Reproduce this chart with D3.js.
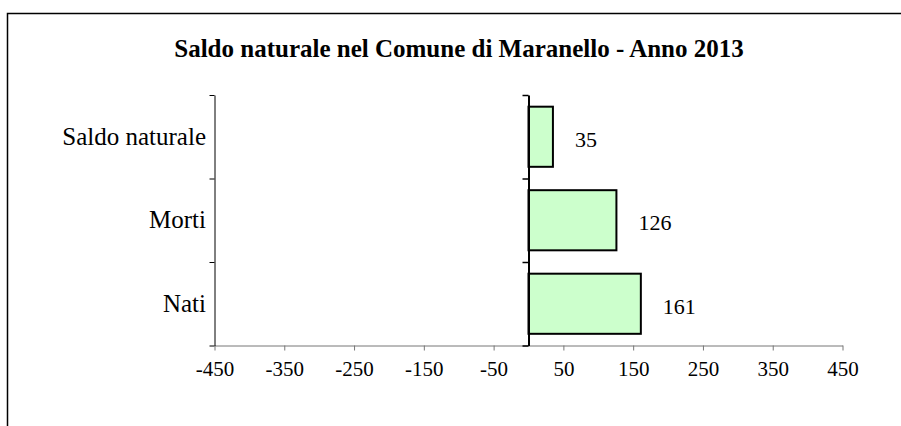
<!DOCTYPE html>
<meta charset="utf-8" />
<title>Saldo naturale - Maranello 2013</title>
<style>
  body { margin: 0; background: #fff; }
  text { font-family: "Times New Roman", "Liberation Serif", serif; fill: #000; }
  .frame { fill: none; stroke: #000; stroke-width: 1.5px; }
  .bar { fill: #ccffcc; stroke: #000; stroke-width: 2px; }
</style>
<body>
  <script src="https://d3js.org/d3.v7.min.js"></script>
  <script>
    // data, bottom to top like the picture
    var categories = ["Nati", "Morti", "Saldo naturale"];
    var values = [161, 126, 35];
    var tickValues = [-450, -350, -250, -150, -50, 50, 150, 250, 350, 450];
    var title = "Saldo naturale nel Comune di Maranello - Anno 2013";

    var width = 901,
      height = 426;

    var svg = d3
      .select("body")
      .append("svg")
      .attr("width", width)
      .attr("height", height);

    // chart area border (runs off the right and bottom)
    svg.append("rect")
      .attr("class", "frame")
      .attr("x", 7.5)
      .attr("y", 13.5)
      .attr("width", 1000)
      .attr("height", 1000);

    svg.append("text")
      .attr("x", 459)
      .attr("y", 57)
      .attr("text-anchor", "middle")
      .style("font-size", "25px")
      .style("font-weight", "bold")
      .text(title);

    var x = d3.scaleLinear().domain([-450, 450]).range([214.5, 842.5]);

    var y = d3
      .scaleBand()
      .domain(categories)
      .range([345.5, 95])
      .paddingInner(0.28)
      .paddingOuter(0.14);

    // category boundaries, for the tick marks
    var yEdge = d3.scaleLinear().domain([0, categories.length]).range([345.5, 95]);
    var edges = d3.range(categories.length + 1);

    // x axis (plain hyphen for negatives, like the original)
    var xAxis = svg
      .append("g")
      .attr("transform", "translate(0,345.5)")
      .call(
        d3.axisBottom(x)
          .tickValues(tickValues)
          .tickFormat(function (d) { return String(d); })
          .tickSize(5)
          .tickSizeOuter(0)
          .tickPadding(10.5)
      );
    xAxis.selectAll("path, line").attr("stroke", "#777");
    xAxis.selectAll("text").style("font-size", "21px");

    // left frame axis at -450
    var leftAxis = svg
      .append("g")
      .attr("transform", "translate(" + x(-450) + ",0)")
      .call(d3.axisLeft(yEdge).tickValues(edges).tickFormat("").tickSize(5).tickSizeOuter(0));
    leftAxis.selectAll("path, line").attr("stroke", "#000");

    // category labels
    var labelAxis = svg
      .append("g")
      .attr("transform", "translate(" + x(-450) + ",0)")
      .call(d3.axisLeft(y).tickSize(0).tickPadding(8.5));
    labelAxis.select(".domain").remove();
    labelAxis.selectAll("text").style("font-size", "25px");

    // bars
    svg.selectAll(".bar")
      .data(values)
      .enter()
      .append("rect")
      .attr("class", "bar")
      .attr("x", x(0))
      .attr("y", function (d, i) { return y(categories[i]); })
      .attr("width", function (d) { return x(d) - x(0); })
      .attr("height", y.bandwidth());

    // value labels
    svg.selectAll(".val")
      .data(values)
      .enter()
      .append("text")
      .attr("class", "val")
      .attr("x", function (d) { return x(d) + 22; })
      .attr("y", function (d, i) { return y(categories[i]) + y.bandwidth() / 2 + 10; })
      .style("font-size", "22px")
      .text(function (d) { return d; });

    // category axis at zero
    var zeroAxis = svg
      .append("g")
      .attr("transform", "translate(" + x(0) + ",0)")
      .call(d3.axisLeft(yEdge).tickValues(edges).tickFormat("").tickSize(6).tickSizeOuter(0));
    zeroAxis.select(".domain").attr("stroke", "#000").attr("stroke-width", 2);
    zeroAxis.selectAll("line").attr("stroke", "#000").attr("stroke-width", 1.5);
  </script>
</body>
